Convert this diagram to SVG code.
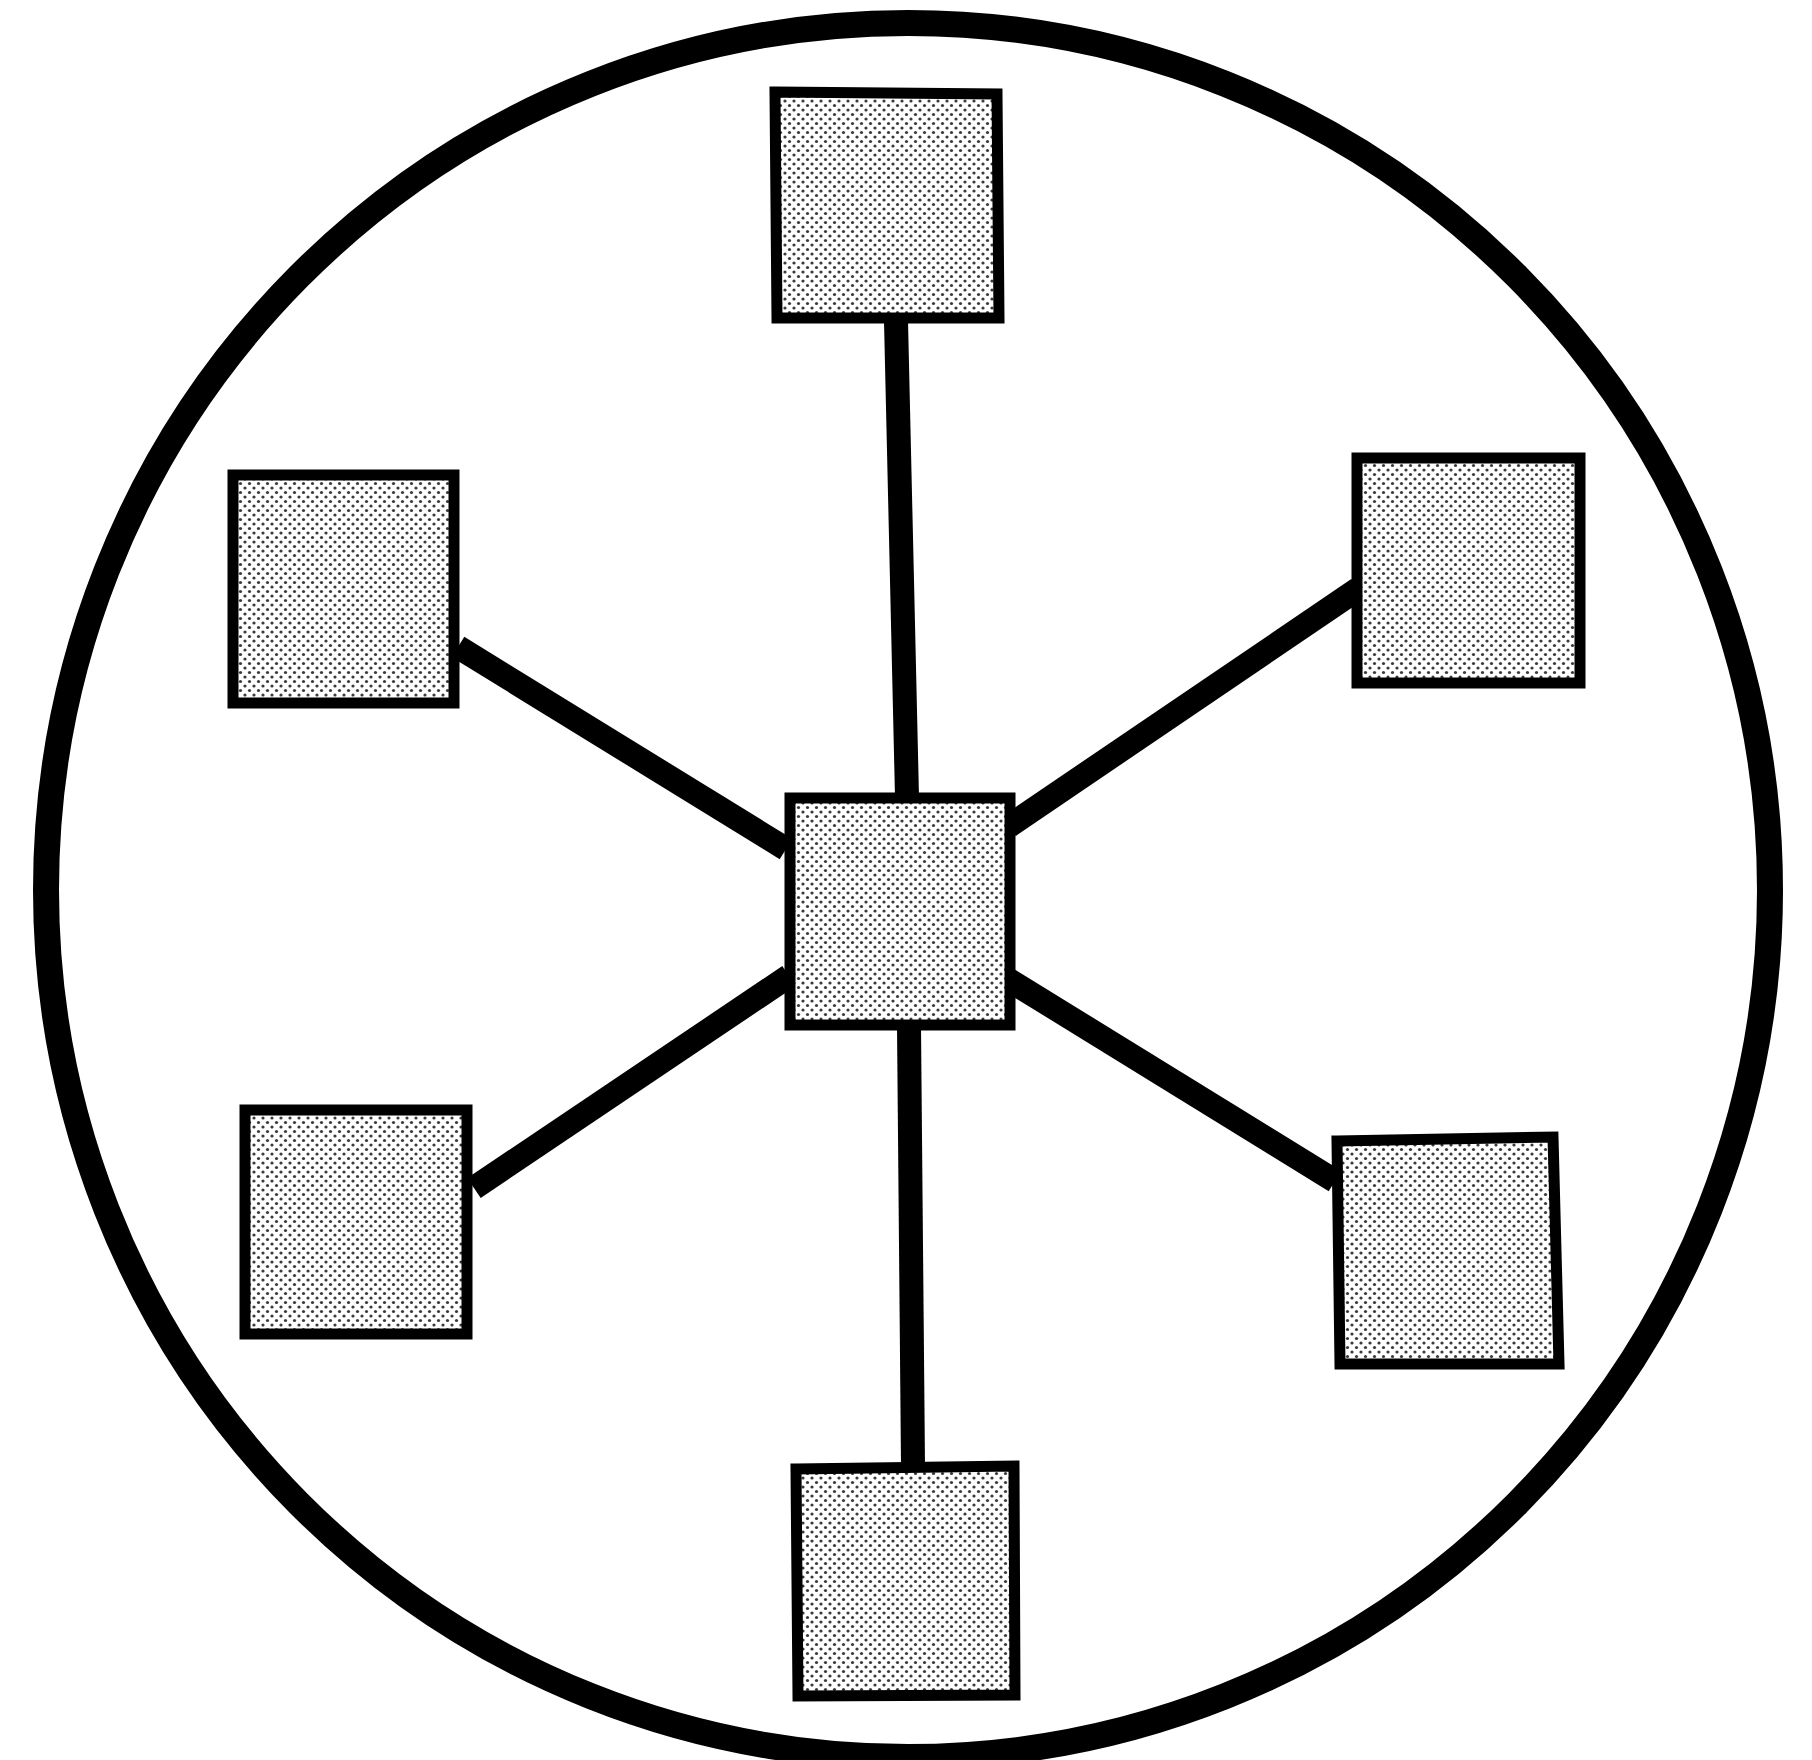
<svg xmlns="http://www.w3.org/2000/svg" width="1812" height="1760" viewBox="0 0 1812 1760">
<defs>
<pattern id="stip" width="9" height="9" patternUnits="userSpaceOnUse">
<rect width="9" height="9" fill="#ffffff"/>
<circle cx="2" cy="2" r="1.6" fill="#3a3a3a"/>
<circle cx="6.5" cy="6.5" r="1.6" fill="#3a3a3a"/>
</pattern>
<style>
.node{fill:url(#stip);stroke:#000;stroke-width:11;stroke-linejoin:miter}
.link{stroke:#000;stroke-width:24;stroke-linecap:butt;fill:none}
</style>
</defs>
<rect width="1812" height="1760" fill="#fff"/>
<ellipse cx="908" cy="890" rx="862" ry="867" fill="none" stroke="#000" stroke-width="26"/>
<g id="connectors">
<line class="link" x1="896" y1="321" x2="907" y2="797"/>
<line class="link" x1="458" y1="647" x2="786" y2="849"/>
<line class="link" x1="1358" y1="589" x2="1009" y2="826"/>
<line class="link" x1="474" y1="1188" x2="789" y2="976"/>
<line class="link" x1="1009" y1="980" x2="1335" y2="1181"/>
<line class="link" x1="909" y1="1026" x2="913" y2="1465"/>
</g>
<g id="node-center"><rect class="node" x="790" y="798" width="220" height="227"/></g>
<g id="node-top"><polygon class="node" points="775,92 997,94 999,318 777,318"/></g>
<g id="node-upper-left"><rect class="node" x="233" y="475" width="221" height="228"/></g>
<g id="node-upper-right"><rect class="node" x="1357" y="458" width="223" height="225"/></g>
<g id="node-lower-left"><rect class="node" x="245" y="1110" width="222" height="224"/></g>
<g id="node-lower-right"><polygon class="node" points="1337,1141 1553,1137 1559,1364 1340,1364"/></g>
<g id="node-bottom"><polygon class="node" points="796,1469 1014,1466 1015,1695 798,1696"/></g>
</svg>
